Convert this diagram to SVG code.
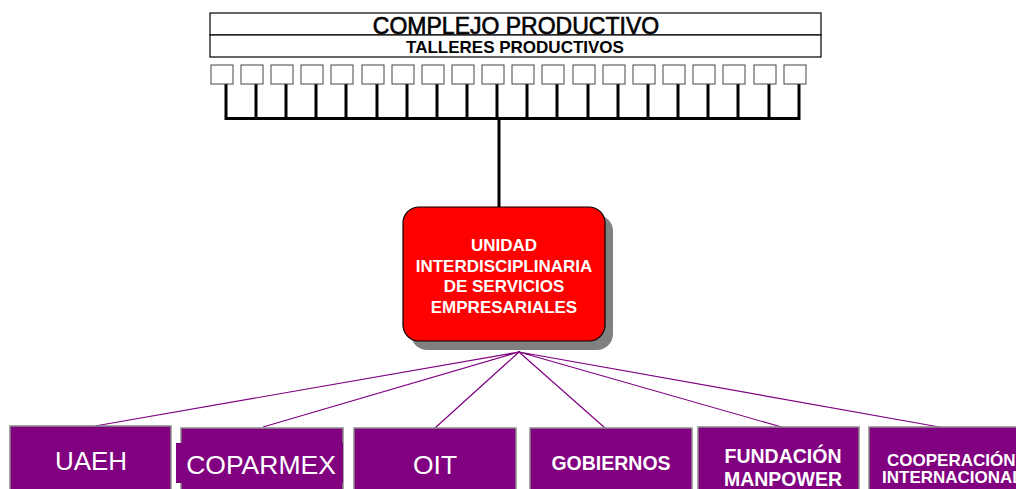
<svg xmlns="http://www.w3.org/2000/svg" width="1016" height="489" viewBox="0 0 1016 489">
<style>
.hdr{fill:#fff;stroke:#000;stroke-width:1.2}
.tb{fill:#fff;stroke:#444;stroke-width:1}
.stem{stroke:#000;stroke-width:3;fill:none}
.pl{stroke:#800080;stroke-width:1.2;fill:none}
.pb{fill:#800080;stroke:#8a8a8a;stroke-width:1.5}
.wt{fill:#fff;font-family:"Liberation Sans",Arial,sans-serif;text-anchor:middle}
.ws{fill:#fff;font-family:"Liberation Sans",Arial,sans-serif;text-anchor:start}
.bt{fill:#000;font-family:"Liberation Sans",Arial,sans-serif;text-anchor:middle}
</style>
<rect width="1016" height="489" fill="#fff"/>
<g id="complejo">
<rect class="hdr" x="210" y="13" width="611" height="22"/>
<text class="bt" x="516" y="34" font-size="23" stroke="#000" stroke-width="0.6">COMPLEJO PRODUCTIVO</text>
</g>
<g id="talleres">
<rect class="hdr" x="210" y="35" width="611" height="22"/>
<text class="bt" x="515" y="52.5" font-size="17" font-weight="bold">TALLERES PRODUCTIVOS</text>
</g>
<g id="connectors">
<path class="stem" d="M226,84V118M256,84V118M286,84V118M316,84V118M346,84V118M377,84V118M407,84V118M437,84V118M467,84V118M497,84V118M527,84V118M557,84V118M588,84V118M618,84V118M648,84V118M678,84V118M708,84V118M738,84V118M769,84V118M799,84V118M224.5,118.5H800.5M499,118V208"/>
<path class="pl" d="M519,352L95,426M519,352L263,427M519,352L435,428M519,352L605,428M519,352L785,428M519,352L945,428"/>
</g>
<g id="talleres-boxes">
<rect class="tb" x="211" y="65" width="22" height="19"/>
<rect class="tb" x="241" y="65" width="22" height="19"/>
<rect class="tb" x="271" y="65" width="22" height="19"/>
<rect class="tb" x="301" y="65" width="22" height="19"/>
<rect class="tb" x="331" y="65" width="22" height="19"/>
<rect class="tb" x="362" y="65" width="22" height="19"/>
<rect class="tb" x="392" y="65" width="22" height="19"/>
<rect class="tb" x="422" y="65" width="22" height="19"/>
<rect class="tb" x="452" y="65" width="22" height="19"/>
<rect class="tb" x="482" y="65" width="22" height="19"/>
<rect class="tb" x="512" y="65" width="22" height="19"/>
<rect class="tb" x="542" y="65" width="22" height="19"/>
<rect class="tb" x="573" y="65" width="22" height="19"/>
<rect class="tb" x="603" y="65" width="22" height="19"/>
<rect class="tb" x="633" y="65" width="22" height="19"/>
<rect class="tb" x="663" y="65" width="22" height="19"/>
<rect class="tb" x="693" y="65" width="22" height="19"/>
<rect class="tb" x="723" y="65" width="22" height="19"/>
<rect class="tb" x="754" y="65" width="22" height="19"/>
<rect class="tb" x="784" y="65" width="22" height="19"/>
</g>
<g id="unidad">
<rect x="411" y="215" width="202" height="135" rx="16" fill="#808080"/>
<rect x="403" y="207" width="202" height="134" rx="16" fill="#ff0000" stroke="#000" stroke-width="1.2"/>
<text class="wt" font-size="17" font-weight="bold"><tspan x="504" y="251">UNIDAD</tspan><tspan x="504" y="272">INTERDISCIPLINARIA</tspan><tspan x="504" y="292">DE SERVICIOS</tspan><tspan x="504" y="313">EMPRESARIALES</tspan></text>
</g>
<g id="uaeh">
<rect class="pb" x="10" y="426" width="161" height="70"/>
<text class="wt" x="91" y="470" font-size="26">UAEH</text>
</g>
<g id="coparmex">
<rect class="pb" x="181" y="428" width="162" height="70"/>
<rect x="176" y="443" width="167" height="40" fill="#800080"/>
<text class="wt" x="261" y="474" font-size="26.5">COPARMEX</text>
</g>
<g id="oit">
<rect class="pb" x="354" y="428" width="162" height="70"/>
<text class="wt" x="435" y="474" font-size="26.5">OIT</text>
</g>
<g id="gobiernos">
<rect class="pb" x="530" y="428" width="162" height="70"/>
<text class="wt" x="611" y="470" font-size="19.5" font-weight="bold">GOBIERNOS</text>
</g>
<g id="fundacion">
<rect class="pb" x="698" y="427" width="161" height="70"/>
<text class="wt" font-size="19.5" font-weight="bold"><tspan x="783" y="463">FUNDACIÓN</tspan><tspan x="783" y="486">MANPOWER</tspan></text>
</g>
<g id="cooperacion">
<rect class="pb" x="869" y="427" width="160" height="70"/>
<text class="ws" font-size="17" font-weight="bold"><tspan x="887" y="466">COOPERACIÓN</tspan><tspan x="882" y="483">INTERNACIONAL</tspan></text>
</g>
</svg>
